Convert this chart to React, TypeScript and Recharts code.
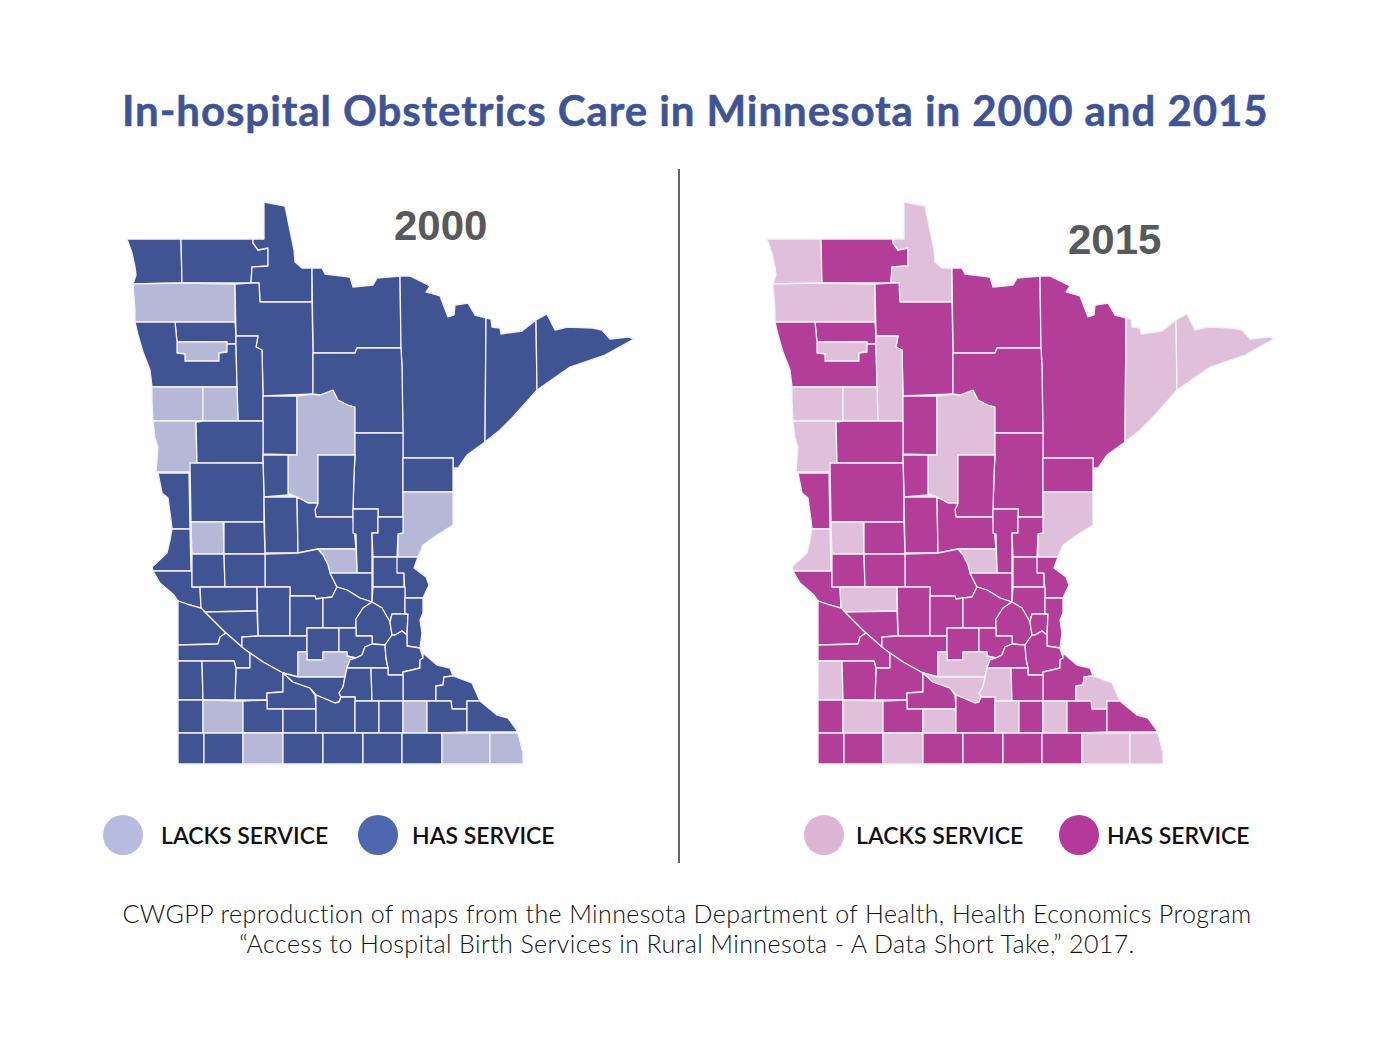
import { ScatterChart, Scatter, XAxis, YAxis } from "recharts";

const TITLE = "In-hospital Obstetrics Care in Minnesota in 2000 and 2015";
const SOURCE_LINES = [
  "CWGPP reproduction of maps from the Minnesota Department of Health, Health Economics Program",
  "“Access to Hospital Birth Services in Rural Minnesota - A Data Short Take,” 2017.",
];

// county outlines: x,y pairs in map units
const COUNTY_OUTLINES: Record<string, number[]> = {
  Kittson: [127,239, 181,239, 182,283, 133,284, 136,275, 135,267, 132,253],
  Roseau: [181,239, 253,239, 253,243, 258,250, 268,248, 268,266, 252,267, 251,283, 182,283],
  LakeOfTheWoods: [264,202, 285,206, 294,250, 295,262, 302,268, 312,268, 312,302, 260,302, 259,283, 251,283, 252,267, 268,266, 268,248, 258,250, 253,243, 253,239, 264,239],
  Koochiching: [312,268, 322,268, 325,274, 350,277, 353,287, 373,285, 377,278, 400,276, 401,348, 357,348, 355,353, 313,353],
  StLouis: [400,276, 410,276, 430,286, 426,292, 440,296, 448,317, 454,315, 455,305, 468,303, 475,315, 486,318, 485,442, 467,455, 458,468, 453,468, 453,458, 403,458, 402,367, 401,348],
  Lake: [486,318, 491,319, 492,327, 500,328, 501,334, 522,331, 536,320, 537,390, 513,417, 500,430, 485,442],
  Cook: [536,320, 547,314, 555,330, 567,327, 593,328, 602,330, 610,339, 628,337, 634,339, 605,355, 570,367, 537,390],
  Marshall: [133,284, 182,283, 235,284, 235,322, 175,322, 135,322, 135,310],
  Beltrami: [235,284, 251,283, 259,283, 260,302, 312,302, 313,353, 313,394, 263,396, 262,350, 256,347, 258,336, 236,336],
  Pennington: [175,322, 235,322, 236,336, 236,344, 227,344, 227,342, 177,342],
  RedLake: [177,342, 227,342, 227,352, 219,353, 219,361, 185,361, 185,354, 177,353],
  Polk: [135,322, 175,322, 177,342, 177,353, 185,354, 185,361, 219,361, 219,353, 227,352, 227,344, 236,344, 237,387, 152,387, 150,370, 143,352, 138,335],
  Clearwater: [236,336, 258,336, 256,347, 262,350, 263,396, 263,421, 238,421, 237,387, 236,344],
  Norman: [152,387, 203,387, 203,421, 153,421, 152,400],
  Mahnomen: [203,387, 237,387, 238,421, 203,421],
  Hubbard: [263,396, 297,396, 297,455, 263,454, 263,421],
  Cass: [297,396, 313,394, 320,395, 333,390, 338,400, 348,405, 355,407, 355,433, 355,455, 318,455, 318,503, 308,503, 297,497, 288,493, 288,455, 297,455],
  Itasca: [313,353, 355,353, 357,348, 401,348, 402,367, 403,433, 355,433, 355,407, 348,405, 338,400, 333,390, 320,395, 313,394],
  Aitkin: [355,433, 403,433, 403,458, 403,492, 403,517, 378,517, 378,509, 353,509, 354,475, 355,455],
  Carlton: [403,458, 453,458, 453,492, 403,492],
  Pine: [403,492, 453,492, 453,525, 445,530, 437,535, 423,545, 418,557, 398,557, 398,534, 403,533],
  Clay: [153,421, 203,421, 196,422, 197,472, 156,472, 158,447, 155,438],
  Becker: [196,422, 203,421, 238,421, 263,421, 263,454, 263,463, 197,463],
  Wadena: [263,455, 288,455, 288,493, 288,495, 264,497],
  CrowWing: [318,455, 355,455, 354,475, 353,509, 353,517, 316,517, 315,510, 318,503],
  Wilkin: [158,473, 189,473, 190,529, 172,529, 171,520, 168,498, 162,493],
  OtterTail: [190,463, 263,463, 264,497, 264,522, 191,522],
  Todd: [264,497, 297,497, 298,553, 265,553],
  Morrison: [297,497, 308,503, 318,503, 315,510, 316,517, 353,517, 356,549, 318,549, 298,553],
  MilleLacs: [353,509, 378,509, 378,533, 372,533, 372,573, 357,573, 356,534, 353,533],
  Kanabec: [378,517, 403,517, 403,533, 398,534, 397,557, 373,557, 372,533, 378,533],
  Traverse: [172,529, 190,529, 191,571, 153,571, 152,567, 167,553, 170,540],
  Grant: [191,522, 223,522, 224,554, 192,554],
  Douglas: [224,522, 264,522, 265,554, 224,554],
  Benton: [318,549, 356,549, 357,573, 330,573, 328,565, 323,555],
  Stearns: [224,554, 265,554, 298,553, 318,549, 323,555, 328,565, 330,573, 337,587, 332,597, 323,598, 316,599, 315,596, 290,596, 290,587, 265,587, 265,554],
  Sherburne: [330,573, 372,573, 372,602, 360,598, 347,590, 337,587],
  Isanti: [373,557, 404,557, 404,587, 373,587],
  Chisago: [397,557, 418,557, 414,568, 426,577, 429,585, 423,598, 405,598, 404,573, 397,573],
  BigStone: [153,571, 192,571, 192,587, 200,587, 201,608, 187,604, 178,601, 174,595, 160,583],
  Stevens: [192,554, 224,554, 225,587, 192,587],
  Pope: [224,554, 265,554, 265,587, 225,587],
  Swift: [200,587, 257,587, 257,611, 205,612, 201,608],
  Kandiyohi: [257,587, 290,587, 290,636, 258,636],
  Meeker: [290,596, 315,596, 316,599, 323,598, 323,628, 307,628, 307,636, 290,636],
  Wright: [337,587, 347,590, 360,598, 372,602, 363,608, 356,619, 356,628, 323,628, 323,598, 332,597],
  Anoka: [373,587, 405,587, 405,614, 392,614, 390,622, 382,608, 372,602],
  Hennepin: [356,619, 363,608, 372,602, 382,608, 390,622, 392,635, 385,645, 372,644, 372,636, 356,636],
  Ramsey: [392,614, 408,614, 407,635, 402,631, 395,635, 392,635, 390,622],
  Washington: [405,598, 423,598, 423,613, 420,620, 422,633, 420,648, 407,646, 407,635, 408,614, 405,614],
  LacQuiParle: [178,601, 187,604, 201,608, 205,612, 220,627, 226,633, 220,637, 218,644, 178,645],
  Chippewa: [205,612, 257,611, 258,636, 242,637, 242,647, 226,633, 220,627],
  YellowMedicine: [178,645, 218,644, 220,637, 226,633, 242,647, 250,653, 250,668, 236,668, 234,661, 178,661],
  Renville: [242,637, 258,636, 290,636, 307,636, 307,652, 298,652, 298,677, 283,673, 263,662, 250,653, 242,647],
  McLeod: [307,628, 339,628, 339,652, 323,652, 323,660, 307,660],
  Carver: [339,628, 356,628, 356,636, 372,636, 372,644, 365,647, 362,655, 356,658, 347,656, 347,652, 339,652],
  Sibley: [298,652, 307,652, 307,660, 323,660, 323,652, 347,652, 347,656, 356,658, 350,660, 347,668, 345,677, 298,677],
  Scott: [372,644, 385,645, 386,658, 388,668, 347,668, 350,660, 356,658, 362,655, 365,647],
  Dakota: [385,645, 392,635, 395,635, 402,631, 407,635, 407,646, 420,648, 423,658, 420,660, 420,668, 412,670, 403,672, 403,675, 388,675, 388,668, 386,658],
  Goodhue: [403,672, 412,670, 420,668, 420,660, 423,658, 423,653, 437,665, 450,668, 453,676, 444,677, 443,685, 436,686, 436,701, 403,701],
  Redwood: [250,653, 263,662, 283,673, 283,692, 267,693, 267,700, 235,700, 236,668, 250,668],
  Lincoln: [178,661, 202,661, 203,700, 178,700],
  Lyon: [202,661, 234,661, 236,668, 235,700, 203,700],
  Brown: [267,693, 283,692, 283,673, 293,682, 310,688, 315,695, 316,709, 267,709],
  Nicollet: [283,673, 298,677, 345,677, 343,687, 339,693, 341,697, 339,702, 335,703, 316,695, 310,688, 293,682],
  LeSueur: [347,668, 371,668, 372,701, 355,701, 355,697, 341,697, 339,693, 343,687, 345,677],
  Rice: [371,668, 388,668, 388,675, 403,675, 403,701, 372,701],
  Wabasha: [444,677, 453,676, 472,683, 480,701, 467,701, 467,709, 452,709, 451,701, 436,701, 436,686, 443,685],
  Pipestone: [178,700, 203,700, 203,733, 178,733],
  Murray: [203,700, 243,701, 243,733, 203,733],
  Cottonwood: [243,701, 267,700, 267,709, 283,709, 283,733, 243,733],
  Watonwan: [283,709, 316,709, 316,733, 283,733],
  BlueEarth: [316,695, 335,703, 339,702, 341,697, 355,697, 355,733, 316,733],
  Waseca: [355,701, 379,701, 379,733, 355,733],
  Steele: [379,701, 403,701, 403,733, 379,733],
  Dodge: [403,701, 427,701, 427,733, 403,733],
  Olmsted: [427,701, 451,701, 452,709, 467,709, 467,732, 442,733, 427,733],
  Winona: [467,701, 480,701, 497,715, 508,718, 518,732, 467,732],
  Rock: [178,733, 204,733, 204,764, 178,764],
  Nobles: [204,733, 243,733, 243,764, 204,764],
  Jackson: [243,733, 283,733, 283,764, 243,764],
  Martin: [283,733, 323,733, 323,764, 283,764],
  Faribault: [323,733, 363,733, 363,764, 323,764],
  Freeborn: [363,733, 402,733, 402,764, 363,764],
  Mower: [402,733, 442,733, 442,764, 402,764],
  Fillmore: [442,733, 490,733, 490,764, 442,764],
  Houston: [490,733, 518,733, 523,753, 523,764, 490,764],
};

const LACKS_2000 = ["Marshall", "RedLake", "Norman", "Mahnomen", "Clay", "Cass", "Pine", "Grant", "Benton", "Sibley", "Murray", "Jackson", "Dodge", "Fillmore", "Houston"];
const LACKS_2015 = ["Kittson", "LakeOfTheWoods", "Marshall", "RedLake", "Norman", "Mahnomen", "Clearwater", "Clay", "Cass", "Lake", "Cook", "Pine", "Traverse", "Grant", "Benton", "Swift", "Sibley", "Nicollet", "LeSueur", "Lincoln", "Murray", "Watonwan", "Waseca", "Dodge", "Wabasha", "Jackson", "Fillmore", "Houston"];

const X_DOMAIN = [100, 660];
const Y_DOMAIN = [190, 780];
const MAP_W = 560;
const MAP_H = 590;
const PX_X = MAP_W / (X_DOMAIN[1] - X_DOMAIN[0]);
const PX_Y = MAP_H / (Y_DOMAIN[1] - Y_DOMAIN[0]);

// the scatter point sits on the first vertex, the rest of the county hangs off it
function CountyShape(props: any) {
  const { cx, cy, payload } = props;
  const pts: string[] = [];
  for (let i = 0; i < payload.outline.length; i += 2) {
    const px = cx + (payload.outline[i] - payload.x) * PX_X;
    const py = cy + (payload.outline[i + 1] - payload.y) * PX_Y;
    pts.push(`${px},${py}`);
  }
  return (
    <polygon
      points={pts.join(" ")}
      fill={payload.fill}
      stroke="#f2f2f8"
      strokeWidth={1.3}
      strokeLinejoin="round"
    />
  );
}

function CountyMap({ lacks, hasColor, lacksColor, left }: { lacks: string[]; hasColor: string; lacksColor: string; left: number }) {
  const data = Object.keys(COUNTY_OUTLINES).map((name) => ({
    name,
    x: COUNTY_OUTLINES[name][0],
    y: COUNTY_OUTLINES[name][1],
    outline: COUNTY_OUTLINES[name],
    fill: lacks.includes(name) ? lacksColor : hasColor,
  }));
  return (
    <div style={{ position: "absolute", left, top: Y_DOMAIN[0] }}>
      <ScatterChart width={MAP_W} height={MAP_H} margin={{ top: 0, right: 0, bottom: 0, left: 0 }}>
        <XAxis type="number" dataKey="x" domain={X_DOMAIN} hide />
        <YAxis type="number" dataKey="y" domain={Y_DOMAIN} reversed hide />
        <Scatter data={data} shape={CountyShape} isAnimationActive={false} />
      </ScatterChart>
    </div>
  );
}

function Label({ x, y, text, style }: { x: number; y: number; text: string; style: React.CSSProperties }) {
  return <div style={{ position: "absolute", left: x, top: y, whiteSpace: "nowrap", ...style }}>{text}</div>;
}

function Dot({ x, color }: { x: number; color: string }) {
  return <div style={{ position: "absolute", left: x - 20, top: 815, width: 40, height: 40, borderRadius: 20, background: color }} />;
}

const LEGEND_FONT: React.CSSProperties = { fontFamily: "Lato", fontWeight: 600, fontSize: 23, lineHeight: "30px", color: "#111" };
const YEAR_FONT: React.CSSProperties = { fontFamily: "Liberation Sans", fontWeight: 700, fontSize: 42, lineHeight: "46px", color: "#58595b" };
const SOURCE_FONT: React.CSSProperties = { fontFamily: "Lato", fontWeight: 300, fontSize: 25, lineHeight: "30px", letterSpacing: 0.4, color: "#111", width: 1398, textAlign: "center" };

export default function App() {
  return (
    <div style={{ position: "absolute", left: 0, top: 0, width: 1398, height: 1037, background: "#fff", overflow: "hidden" }}>
      <Label x={122} y={84} text={TITLE} style={{ fontFamily: "Lato", fontWeight: 700, fontSize: 42, lineHeight: "52px", letterSpacing: 0.93, WebkitTextStroke: "0.5px #3f5496", color: "#3f5496" }} />
      <CountyMap lacks={LACKS_2000} hasColor="#405393" lacksColor="#b5b8d6" left={100} />
      <CountyMap lacks={LACKS_2015} hasColor="#b23e97" lacksColor="#e0bfdb" left={740} />
      <div style={{ position: "absolute", left: 678, top: 169, width: 1.5, height: 694, background: "#666" }} />
      <Label x={394} y={203} text="2000" style={YEAR_FONT} />
      <Label x={1068} y={217} text="2015" style={YEAR_FONT} />
      <Dot x={123} color="#b6bbe0" />
      <Dot x={378} color="#4f66b0" />
      <Dot x={824} color="#ddb6d6" />
      <Dot x={1079} color="#b5399a" />
      <Label x={161} y={820} text="LACKS SERVICE" style={LEGEND_FONT} />
      <Label x={412} y={820} text="HAS SERVICE" style={LEGEND_FONT} />
      <Label x={856} y={820} text="LACKS SERVICE" style={LEGEND_FONT} />
      <Label x={1107} y={820} text="HAS SERVICE" style={LEGEND_FONT} />
      <Label x={-12} y={898} text={SOURCE_LINES[0]} style={SOURCE_FONT} />
      <Label x={-12} y={928} text={SOURCE_LINES[1]} style={SOURCE_FONT} />
    </div>
  );
}
